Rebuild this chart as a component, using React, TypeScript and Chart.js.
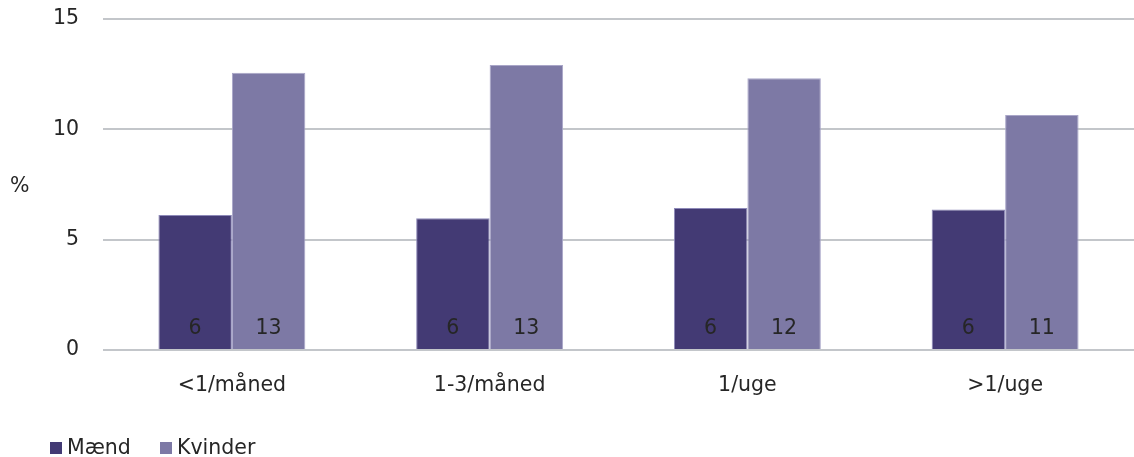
import React, { useEffect, useRef } from "react";
import Chart from "chart.js/auto";

const categories = ["<1/måned", "1-3/måned", "1/uge", ">1/uge"];
const seriesNames = ["Mænd", "Kvinder"];
const maendValues = [6.12, 5.97, 6.43, 6.37];
const kvinderValues = [12.56, 12.91, 12.32, 10.65];
const maendLabels = ["6", "6", "6", "6"];
const kvinderLabels = ["13", "13", "12", "11"];
const yTicks = [0, 5, 10, 15];
const yAxisTitle = "%";

const COLORS = ["#433a74", "#7d79a5"];
const FONT = "'DejaVu Sans', Verdana, sans-serif";
const FS = 20.5;
const TEXT = "#262626";

export default function App() {
  const ref = useRef<HTMLCanvasElement | null>(null);

  useEffect(() => {
    if (!ref.current) return;
    const labelSets = [maendLabels, kvinderLabels];
    const overlay = {
      id: "overlay",
      afterDatasetsDraw(chart: any) {
        const ctx = chart.ctx;
        const y0 = chart.scales.y.getPixelForValue(0);
        ctx.save();
        ctx.font = `${FS}px ${FONT}`;
        ctx.fillStyle = TEXT;
        ctx.textAlign = "center";
        ctx.textBaseline = "middle";
        chart.data.datasets.forEach((_: any, di: number) => {
          const meta = chart.getDatasetMeta(di);
          meta.data.forEach((bar: any, i: number) => {
            ctx.fillText(labelSets[di][i], bar.x, y0 - 21);
          });
        });
        ctx.restore();
      },
      afterDraw(chart: any) {
        const ctx = chart.ctx;
        ctx.save();
        ctx.font = `${FS}px ${FONT}`;
        ctx.fillStyle = TEXT;
        ctx.textAlign = "left";
        ctx.textBaseline = "middle";
        ctx.fillText(yAxisTitle, 10, 187);
        const items = [
          { x: 50, name: seriesNames[0], color: COLORS[0] },
          { x: 160, name: seriesNames[1], color: COLORS[1] },
        ];
        ctx.textBaseline = "alphabetic";
        items.forEach((it) => {
          ctx.fillStyle = it.color;
          ctx.fillRect(it.x, 442, 12, 12);
          ctx.fillStyle = TEXT;
          ctx.fillText(it.name, it.x + 17, 454);
        });
        ctx.restore();
      },
    };

    const chart = new Chart(ref.current, {
      type: "bar",
      data: {
        labels: categories,
        datasets: [
          {
            label: seriesNames[0],
            data: maendValues,
            backgroundColor: COLORS[0],
            borderColor: "#8d89b8",
            borderWidth: 1,
          },
          {
            label: seriesNames[1],
            data: kvinderValues,
            backgroundColor: COLORS[1],
            borderColor: "#a9a6c8",
            borderWidth: 1,
          },
        ],
      },
      options: {
        animation: false,
        responsive: false,
        maintainAspectRatio: false,
        layout: { padding: { top: 19, left: 0, right: 0, bottom: 0 } },
        plugins: {
          legend: { display: false },
          tooltip: { enabled: false },
        },
        datasets: {
          bar: { categoryPercentage: 0.57, barPercentage: 1 },
        },
        scales: {
          x: {
            grid: { display: false, drawTicks: false },
            border: { display: false },
            ticks: {
              color: TEXT,
              font: { family: FONT, size: FS },
              padding: 23,
              maxRotation: 0,
            },
            afterFit(scale: any) {
              scale.height = 107;
            },
          },
          y: {
            min: 0,
            max: 15,
            afterBuildTicks(scale: any) {
              scale.ticks = yTicks.map((v) => ({ value: v }));
            },
            grid: { color: "#c3c6ca", lineWidth: 2, drawTicks: false },
            border: { display: false },
            ticks: {
              color: TEXT,
              font: { family: FONT, size: FS },
              padding: 24,
            },
            afterFit(scale: any) {
              scale.width = 103;
              scale.paddingTop = 0;
              scale.paddingBottom = 0;
            },
          },
        },
      },
      plugins: [overlay],
    });
    return () => chart.destroy();
  }, []);

  return (
    <div style={{ position: "absolute", left: 0, top: 0, width: 1134, height: 457, background: "#fff" }}>
      <canvas ref={ref} width={1134} height={457} style={{ display: "block" }} />
    </div>
  );
}
